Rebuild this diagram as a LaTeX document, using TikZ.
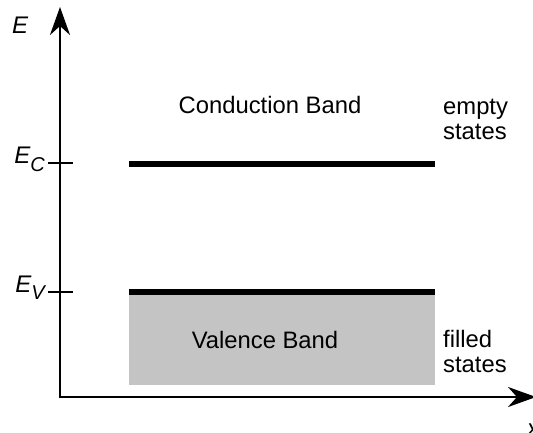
\documentclass[tikz,border=0pt]{standalone}
\usepackage{fontspec}
\setmainfont{Liberation Sans}
\usetikzlibrary{arrows.meta}
\begin{document}
\begin{tikzpicture}[x=1pt,y=-1pt,
  axis/.style={line width=2.6pt,-{Stealth[length=28pt,width=20pt,inset=9pt]}},
  tick/.style={line width=2pt},
  bandline/.style={line width=6pt},
  lbl/.style={inner sep=0pt,font=\fontsize{23.8}{25}\selectfont},
  elbl/.style={inner sep=0pt,font=\fontsize{24}{24}\selectfont\itshape}]
\useasboundingbox (0,0) rectangle (533,432);
% coordinates
\coordinate (Etop) at (60,7);
\coordinate (Xend) at (536,397);
\coordinate (tc1) at (48,163);
\coordinate (tc2) at (73,163);
\coordinate (tv1) at (48,292);
\coordinate (tv2) at (73,292);
\coordinate (cb1) at (129,164);
\coordinate (cb2) at (435,164);
\coordinate (vb1) at (129,291.5);
\coordinate (vb2) at (435,291.5);
% valence band fill
\fill[fill={rgb,255:red,196;green,196;blue,196}] (129,291) rectangle (435,385);
% axes
\draw[axis] (60,398.3) -- (Etop);
\draw[axis] (58.7,397) -- (Xend);
% ticks
\draw[tick] (tc1) -- (tc2);
\draw[tick] (tv1) -- (tv2);
% band edges
\draw[bandline] (cb1) -- (cb2);
\draw[bandline] (vb1) -- (vb2);
% labels
\node[elbl,anchor=base west] (E) at (12,33) {E};
\node[elbl,anchor=base east] (EC) at (45,163) {E\raisebox{-8pt}{\fontsize{20}{20}\selectfont C}};
\node[elbl,anchor=base east] (EV) at (45,292) {E\raisebox{-7pt}{\fontsize{20}{20}\selectfont V}};
\node[lbl] (cband) at (270,105) {Conduction Band};
\node[lbl] (vband) at (265,340) {Valence Band};
\node[lbl,anchor=north west,align=left] (empty) at (443,99) {empty\\states};
\node[lbl,anchor=north west,align=left] (filled) at (443,330) {filled\\states};
\node[elbl,anchor=base west] (xl) at (527,436) {x};
\end{tikzpicture}
\end{document}
